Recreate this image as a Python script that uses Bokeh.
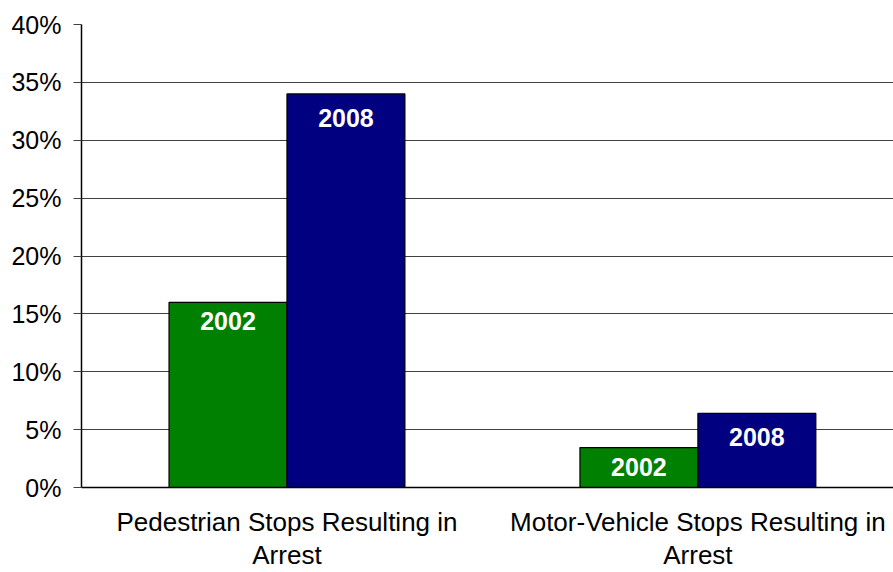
from bokeh.plotting import figure
from bokeh.models import ColumnDataSource, Range1d, FixedTicker
from bokeh.core.properties import value
from bokeh.embed import file_html
from bokeh.resources import INLINE

categories = ["Pedestrian Stops Resulting in\nArrest", "Motor-Vehicle Stops Resulting in\nArrest"]
years = ["2002", "2008"]
values_2002 = [16.0, 3.45]
values_2008 = [34.0, 6.4]
y_ticks = [0, 5, 10, 15, 20, 25, 30, 35, 40]

FONT = "Liberation Sans"
centers = [i + 0.5 for i in range(len(categories))]
bw = 0.287

p = figure(width=893, height=572, output_backend="svg", toolbar_location=None,
           x_range=Range1d(0, 1.976), y_range=Range1d(0, 40),
           min_border_left=81, min_border_right=0, min_border_top=24, min_border_bottom=84)
p.outline_line_color = None
p.background_fill_color = "white"
p.border_fill_color = "white"

src1 = ColumnDataSource(dict(x=[c - bw / 2 for c in centers], top=values_2002, lab=[years[0]] * 2))
src2 = ColumnDataSource(dict(x=[c + bw / 2 for c in centers], top=values_2008, lab=[years[1]] * 2))

p.vbar(x="x", top="top", bottom=0, width=bw, source=src1, fill_color="#008000", line_color="black", line_width=1.2)
p.vbar(x="x", top="top", bottom=0, width=bw, source=src2, fill_color="#000080", line_color="black", line_width=1.2)

for s, off in ((src1, 10), (src2, 15)):
    p.text(x="x", y="top", text="lab", source=s, text_align="center", text_baseline="top",
           y_offset=off, text_color="white", text_font=value(FONT), text_font_style="bold",
           text_font_size="25px")

p.xgrid.visible = False
p.ygrid.ticker = FixedTicker(ticks=y_ticks)
p.ygrid.grid_line_color = "#404040"
p.ygrid.grid_line_width = 1

p.yaxis.ticker = FixedTicker(ticks=y_ticks)
p.yaxis.major_label_overrides = {t: f"{t}%" for t in y_ticks}
p.yaxis.major_tick_in = 0
p.yaxis.major_tick_out = 8
p.yaxis.minor_tick_line_color = None
p.yaxis.axis_line_color = "black"
p.yaxis.axis_line_width = 1.5
p.yaxis.major_tick_line_color = "#404040"
p.yaxis.major_label_standoff = 12
p.yaxis.major_label_text_font = FONT
p.yaxis.major_label_text_font_size = "25px"
p.yaxis.major_label_text_color = "black"

p.xaxis.ticker = FixedTicker(ticks=centers)
p.xaxis.major_label_overrides = {c: lab for c, lab in zip(centers, categories)}
p.xaxis.major_tick_line_color = None
p.xaxis.major_tick_out = 0
p.xaxis.major_tick_in = 0
p.xaxis.minor_tick_line_color = None
p.xaxis.axis_line_color = "black"
p.xaxis.axis_line_width = 1.5
p.xaxis.major_label_standoff = 19
p.xaxis.major_label_text_font = FONT
p.xaxis.major_label_text_font_size = "26px"
p.xaxis.major_label_text_line_height = 1.1
p.xaxis.major_label_text_color = "black"

open("out.html", "w").write(file_html(p, INLINE))
